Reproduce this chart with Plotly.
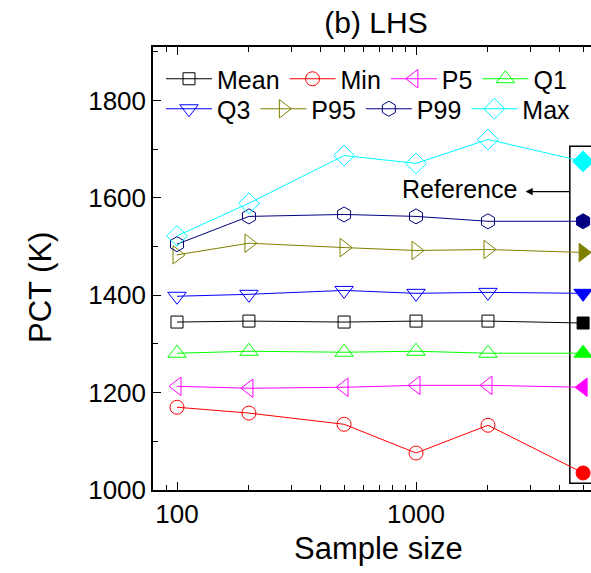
import plotly.graph_objects as go

# Sample sizes (the last one is the reference run)
sample_sizes = [100, 200, 500, 1000, 2000, 5000]

series_names = ["Mean", "Min", "P5", "Q1", "Q3", "P95", "P99", "Max"]
pct_mean = [1345, 1347, 1345, 1347, 1347, 1343]
pct_min = [1170, 1158, 1135, 1076, 1133, 1035]
pct_p5 = [1213, 1209, 1211, 1215, 1215, 1211]
pct_q1 = [1281, 1285, 1283, 1285, 1281, 1281]
pct_q3 = [1398, 1402, 1410, 1404, 1406, 1404]
pct_p95 = [1483, 1507, 1498, 1492, 1494, 1488]
pct_p99 = [1505, 1562, 1566, 1562, 1552, 1552]
pct_max = [1522, 1589, 1687, 1671, 1720, 1675]

series_values = [pct_mean, pct_min, pct_p5, pct_q1, pct_q3, pct_p95, pct_p99, pct_max]
series_colors = ["#000000", "#FF0000", "#FF00FF", "#00FF00",
                 "#0000FF", "#808000", "#000080", "#00FFFF"]
series_symbols = ["square", "circle", "triangle-left", "triangle-up",
                  "triangle-down", "triangle-right", "hexagon", "diamond"]
series_sizes = [12, 14, 16, 16, 16, 16, 15, 16]

FONT = "Liberation Sans, Arial, sans-serif"

# plot-area geometry in pixels
L, T, W, H = 153, 47, 438, 443


def px_x(p):
    return (p - L) / W


def px_y(p):
    return (T + H - p) / H


fig = go.Figure()
for i, (name, vals, col, sym, sz) in enumerate(zip(series_names, series_values,
                                                   series_colors, series_symbols,
                                                   series_sizes)):
    n = len(vals)
    # open markers for the sampled runs, a filled one for the reference
    symbols = [sym + "-open"] * (n - 1) + [sym]
    fig.add_trace(go.Scatter(
        x=sample_sizes, y=vals, name=name, mode="lines+markers",
        line=dict(color=col, width=1),
        marker=dict(symbol=symbols, size=sz, color=col,
                    line=dict(color=col, width=1)),
        cliponaxis=False,
        legend="legend" if i < 4 else "legend2",
    ))

# box around the reference values
fig.add_shape(type="rect", xref="x", yref="y",
              x0=4400, x1=9000, y0=1014, y1=1706,
              line=dict(color="black", width=1.5), layer="below")

fig.add_annotation(x=3.431, y=1619, xref="x", yref="y", text="Reference",
                   showarrow=False, xanchor="right", yanchor="middle",
                   font=dict(family=FONT, size=25, color="black"))
fig.add_annotation(x=3.458, y=1613, xref="x", yref="y", text="",
                   showarrow=True, ax=45, ay=0, arrowhead=2, arrowsize=1.2,
                   arrowwidth=1.2, arrowcolor="black")

# axis titles
fig.add_annotation(x=px_x(40), y=px_y(288), xref="paper", yref="paper",
                   text="PCT (K)", showarrow=False, textangle=-90,
                   xanchor="center", yanchor="middle",
                   font=dict(family=FONT, size=31, color="black"))
fig.add_annotation(x=px_x(378), y=px_y(548), xref="paper", yref="paper",
                   text="Sample size", showarrow=False,
                   xanchor="center", yanchor="middle",
                   font=dict(family=FONT, size=31, color="black"))

legend_common = dict(orientation="h", xanchor="left", yanchor="middle",
                     bgcolor="rgba(0,0,0,0)", font=dict(family=FONT, size=25),
                     itemwidth=46)

fig.update_layout(
    width=591, height=573,
    margin=dict(l=L, r=0, t=T, b=573 - T - H),
    paper_bgcolor="white", plot_bgcolor="white",
    font=dict(family=FONT, size=26, color="black"),
    title=dict(text="(b) LHS", x=376 / 591, xanchor="center",
               y=1 - 22 / 573, yanchor="middle",
               font=dict(family=FONT, size=30, color="black")),
    showlegend=True,
    legend=dict(x=px_x(161), y=px_y(79), **legend_common),
    legend2=dict(x=px_x(161), y=px_y(109), **legend_common),
    xaxis=dict(type="log", range=[1.8996, 3.732], showgrid=False, zeroline=False,
               showline=True, linecolor="black", linewidth=1.5, mirror="ticks",
               ticks="inside", ticklen=8, tickwidth=1.2, tickcolor="black",
               tickvals=[100, 1000], ticktext=["100", "1000"],
               minor=dict(ticks="inside", ticklen=5, tickwidth=1.2,
                          tickcolor="black", dtick="D1", showgrid=False),
               tickfont=dict(family=FONT, size=26)),
    yaxis=dict(range=[1000, 1910], showgrid=False, zeroline=False,
               showline=True, linecolor="black", linewidth=1.5, mirror=False,
               ticks="inside", ticklen=8, tickwidth=1.2, tickcolor="black",
               dtick=200, tick0=1000,
               minor=dict(ticks="inside", ticklen=5, tickwidth=1.2,
                          tickcolor="black", dtick=100, showgrid=False),
               tickfont=dict(family=FONT, size=26)),
)

fig.write_html("out.html")
